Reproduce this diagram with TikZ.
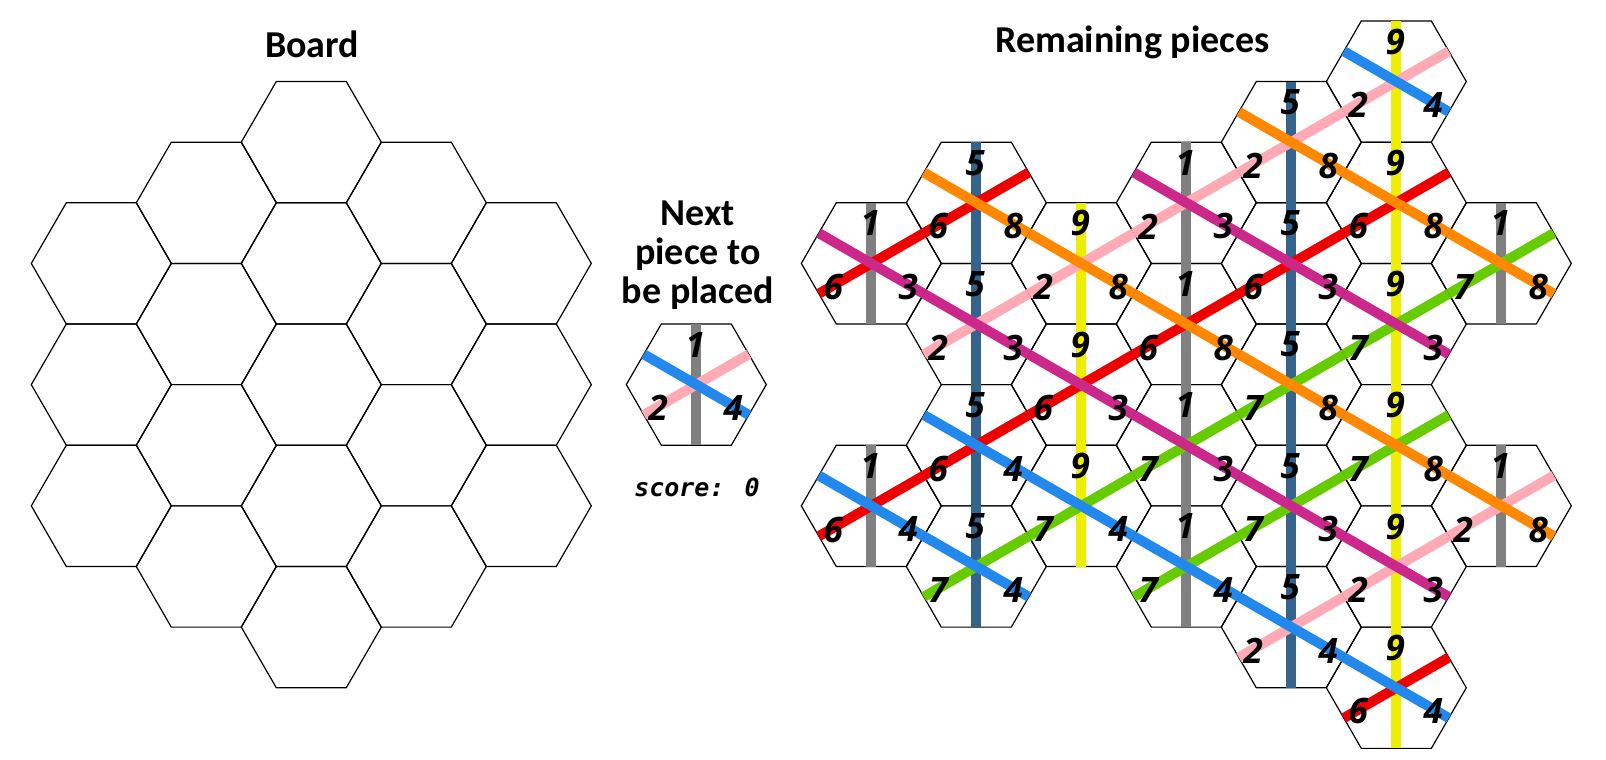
\documentclass[tikz,border=0pt]{standalone}
\usepackage{fontspec}
\newfontfamily\titlefont{Carlito}
\newfontfamily\digitfont{Open Sans}
\newfontfamily\scorefont{DejaVu Sans Mono}
\definecolor{v1}{RGB}{128,128,128}
\definecolor{v5}{RGB}{52,100,140}
\definecolor{v9}{RGB}{238,238,0}
\definecolor{v2}{RGB}{255,170,180}
\definecolor{v6}{RGB}{238,0,0}
\definecolor{v7}{RGB}{102,204,0}
\definecolor{v3}{RGB}{204,40,140}
\definecolor{v4}{RGB}{34,136,238}
\definecolor{v8}{RGB}{255,136,0}
\tikzset{
  hexcell/.style={draw=black, line width=1.2pt, line join=miter},
  tile/.style={line width=10pt},
  digit/.style={font=\digitfont\bfseries\itshape\fontsize{35}{35}\selectfont, inner sep=0pt},
  title/.style={font=\titlefont\bfseries\fontsize{38}{39}\selectfont, anchor=base, inner sep=0pt},
  scoretext/.style={font=\scorefont\bfseries\itshape\fontsize{25}{25}\selectfont, anchor=base, inner sep=0pt},
}
\newcommand\cellat[2]{\draw[hexcell,shift={(#1,#2)}] (-70,0) -- (-35,-60.62) -- (35,-60.62) -- (70,0) -- (35,60.62) -- (-35,60.62) -- cycle;}
\newcommand\piecelines[5]{%
  \begin{scope}[shift={(#1,#2)}]
    \draw[tile,v#3] (0,-60.62) -- (0,60.62);
    \draw[tile,v#4] (-52.5,30.31) -- (52.5,-30.31);
    \draw[tile,v#5] (-52.5,-30.31) -- (52.5,30.31);
  \end{scope}}
\newcommand\piecedigits[6]{%
  \begin{scope}[shift={(#2,#3)}]
    \node[digit] (#1t) at (-1,-40) {#4};
    \node[digit] (#1l) at (-38,23.6) {#5};
    \node[digit] (#1r) at (37,23.6) {#6};
  \end{scope}}
\def\piecelist{0/0/1/6/3, 0/4/1/6/4,
  1/-1/5/6/8, 1/1/5/2/3, 1/3/5/6/4, 1/5/5/7/4,
  2/0/9/2/8, 2/2/9/6/3, 2/4/9/7/4,
  3/-1/1/2/3, 3/1/1/6/8, 3/3/1/7/3, 3/5/1/7/4,
  4/-2/5/2/8, 4/0/5/6/3, 4/2/5/7/8, 4/4/5/7/3, 4/6/5/2/4,
  5/-3/9/2/4, 5/-1/9/6/8, 5/1/9/7/3, 5/3/9/7/8, 5/5/9/2/3, 5/7/9/6/4,
  6/0/1/7/8, 6/4/1/2/8}
\def\boardlist{-2/0,-2/2,-2/4,-1/-1,-1/1,-1/3,-1/5,0/-2,0/0,0/2,0/4,0/6,1/-1,1/1,1/3,1/5,2/0,2/2,2/4}
\begin{document}
\begin{tikzpicture}[x=1pt,y=-1pt]
\fill[white] (0,0) rectangle (1606,760);
\useasboundingbox (0,0) rectangle (1606,760);
% titles
\node[title] (boardtitle) at (312,57.3) {Board};
\node[title] (remtitle) at (1132.5,52.7) {Remaining pieces};
\node[title] (next1) at (698,225) {Next};
\node[title] (next2) at (698,264) {piece to};
\node[title] (next3) at (698,303) {be placed};
\node[scoretext] (score) at (697,496.7) {score: 0};
% board
\foreach \c/\k in \boardlist {
  \pgfmathsetmacro\px{311.3+105*\c}
  \pgfmathsetmacro\py{263.4+60.62*\k}
  \cellat{\px}{\py}
}
% next piece
\cellat{696.3}{384.6}
\piecelines{696.3}{384.6}{1}{2}{4}
\piecedigits{np}{696.3}{384.6}{1}{2}{4}
% remaining pieces
\foreach \c/\k/\t/\l/\r in \piecelist {
  \pgfmathsetmacro\px{871.3+105*\c}
  \pgfmathsetmacro\py{263.4+60.62*\k}
  \cellat{\px}{\py}
}
\foreach \c/\k/\t/\l/\r in \piecelist {
  \pgfmathsetmacro\px{871.3+105*\c}
  \pgfmathsetmacro\py{263.4+60.62*\k}
  \piecelines{\px}{\py}{\t}{\l}{\r}
}
\foreach \c/\k/\t/\l/\r [count=\i] in \piecelist {
  \pgfmathsetmacro\px{871.3+105*\c}
  \pgfmathsetmacro\py{263.4+60.62*\k}
  \piecedigits{rp\i}{\px}{\py}{\t}{\l}{\r}
}
\end{tikzpicture}
\end{document}
